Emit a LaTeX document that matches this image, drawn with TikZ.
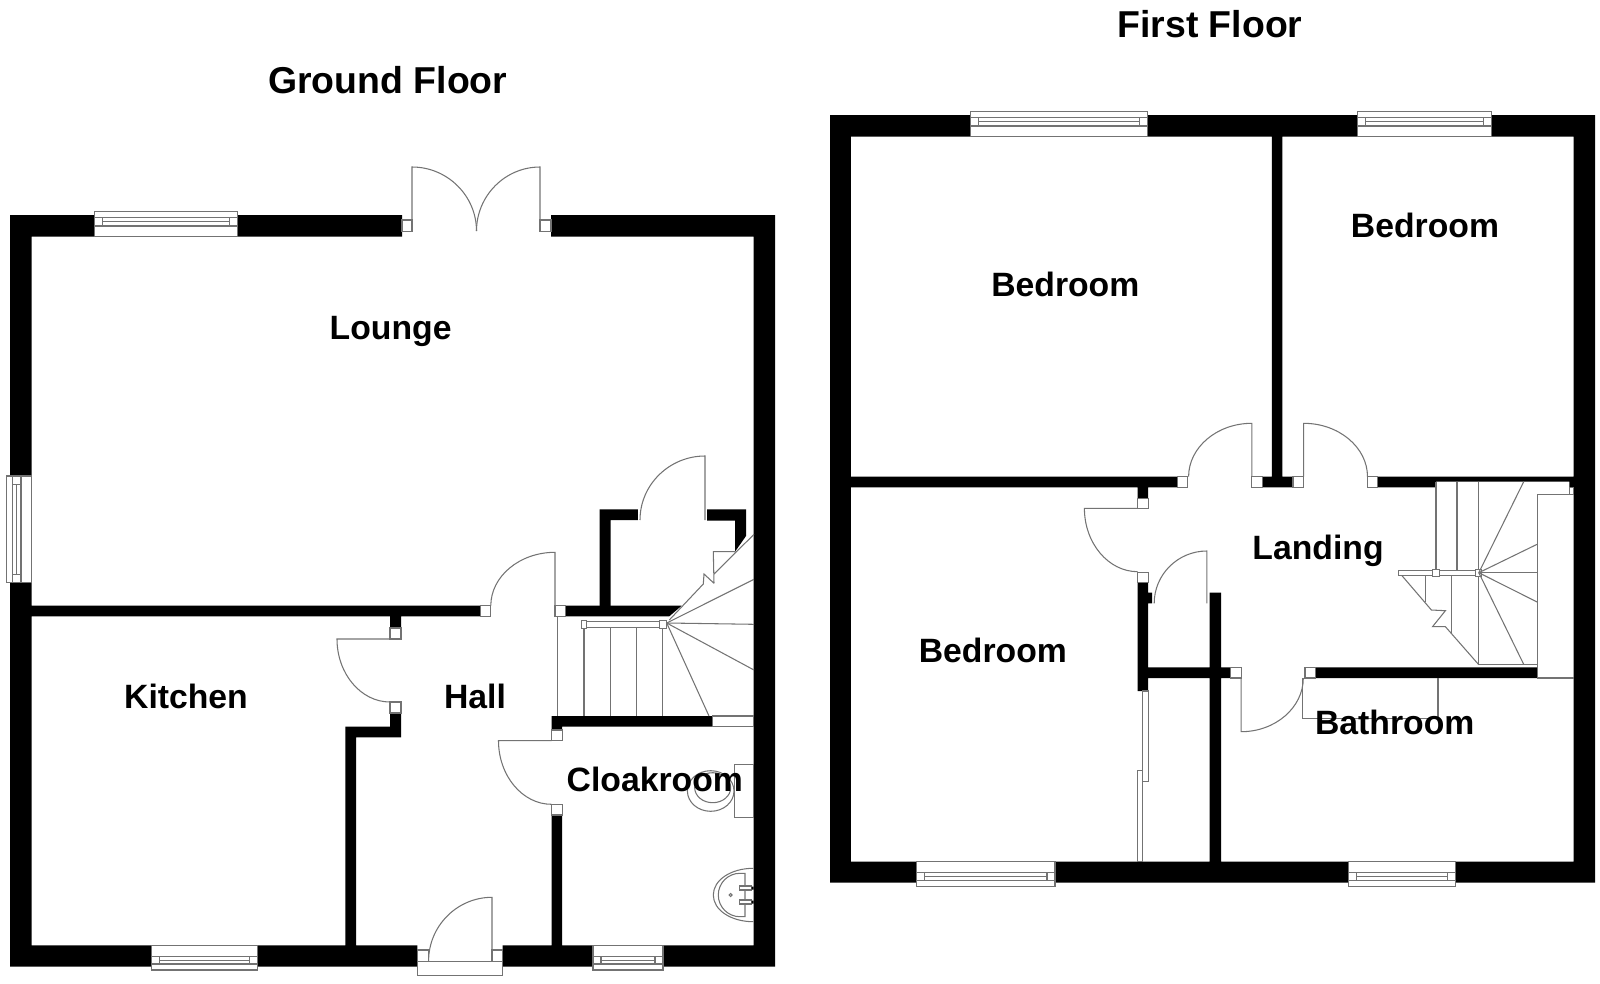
\documentclass[tikz,border=0pt]{standalone}
\usepackage{fontspec}
\setmainfont{Liberation Sans}
\tikzset{wall/.style={fill=black},
    fine/.style={draw=black!55,line width=0.6pt},
    jamb/.style={fine,fill=white},
    floorlabel/.style={inner sep=0pt,anchor=base,font=\fontsize{21.3pt}{24pt}\selectfont\bfseries},
    roomlabel/.style={inner sep=0pt,anchor=base,font=\fontsize{19.2pt}{22pt}\selectfont\bfseries}}
% door with an upright leaf: arc start x,y then leaf tip x,y
\newcommand\vswing[4]{\draw[fine] (#1,#2) .. controls (#1,{#2+.55*(#4-#2)}) and ({#3-.55*(#3-#1)},#4) .. (#3,#4) -- (#3,#2);}
% door with a level leaf
\newcommand\hswing[4]{\draw[fine] (#1,#2) .. controls ({#1+.55*(#3-#1)},#2) and (#3,{#4+.55*(#2-#4)}) .. (#3,#4) -- (#1,#4);}
% window: x1 x2 y1 y2 then the two frame lines
\newcommand\flatwin[6]{\draw[jamb] (#1,#3) rectangle (#2,#4);
    \draw[fine] (#1,#5) -- (#2,#5) (#1,#6) -- (#2,#6)
        ({#1+8},#5) -- ({#1+8},#6) ({#2-8},#5) -- ({#2-8},#6)
        ({#1+8},{(#5+#6)/2}) -- ({#2-8},{(#5+#6)/2});}
\begin{document}
\begin{tikzpicture}[x=0.02cm,y=-0.02cm]
\useasboundingbox (0,0) rectangle (1600,984);
% ground floor walls
\fill[wall] (10.2,215) rectangle (402,236.7)
    (551,215) rectangle (775,236.7)
    (10.2,215) rectangle (31.6,966.7)
    (753.6,215) rectangle (775,966.7)
    (10.2,945.3) rectangle (417.3,966.7)
    (502.6,945.3) rectangle (775,966.7)
    (31.6,605.7) rectangle (480.6,616.3)
    (390,616) rectangle (401,628)
    (390,713) rectangle (401,737.3)
    (345.4,726.7) rectangle (401,737.3)
    (345.4,726.7) rectangle (356,946)
    (551.5,815) rectangle (562.2,946)
    (551.5,716) rectangle (712.8,726.7)
    (551.5,726) rectangle (562.2,730)
    (599.5,509.3) rectangle (637.8,520)
    (599.5,509.3) rectangle (610.7,606);
\fill[wall] (565.3,605.7) -- (681.7,605.7) -- (669.3,616.3) -- (565.3,616.3) -- cycle;
\fill[wall] (707,509.3) -- (746,509.3) -- (746,536) -- (735,551.7) -- (735,520.7) -- (707,520.7) -- cycle;
% ground floor windows
\flatwin{94.4}{237.2}{211.3}{236.7}{217.3}{226}
\flatwin{151.5}{257.7}{945.3}{970}{956.7}{964}
\flatwin{593}{663}{945.3}{970}{956.7}{964}
\draw[jamb] (6.7,476) rectangle (31.3,582.7);
\draw[fine] (12.3,476) -- (12.3,582.7) (21,476) -- (21,582.7)
    (12.3,484.3) -- (21,484.3) (12.3,574.7) -- (21,574.7) (16.7,484.3) -- (16.7,574.7);
% ground floor doors
\foreach \xa/\ya/\xb/\yb in {402/220/412/231.3,540/220/551/231.3,480.6/605.7/490.8/616.3,
    555/605.7/565.3/616.3,390/628/401/639,390/702/401/713,551.5/730/562.2/740.7,
    551.5/804.3/562.2/815,417.3/950/428.6/961.3,492/950/502.6/961.3}
    \draw[jamb] (\xa,\ya) rectangle (\xb,\yb);
\draw[jamb] (417.3,961.3) rectangle (502.6,975.3);
\vswing{476.5}{231}{412}{167}
\vswing{476.5}{231}{540}{167}
\vswing{490.8}{605.7}{555}{552.3}
\vswing{640}{520}{705}{456}
\vswing{428.6}{961}{492}{897.3}
\hswing{390}{702}{337}{639}
\hswing{551.5}{804.3}{498.5}{740.7}
% ground floor stairs
\draw[fine] (557.7,616.3) -- (557.7,716);
\foreach \tx in {584,610.7,636.7,662.8}
    \draw[fine] (\tx,626.7) -- (\tx,716);
\draw[jamb] (581.6,621.7) rectangle (665.8,627.3);
\draw[jamb] (581.6,620.7) rectangle (586.5,628.3);
\draw[jamb] (659.3,620.7) rectangle (666.7,628.3);
\foreach \wx/\wy in {754/579.3,754/624.3,754/670,709/716}
    \draw[fine] (666.7,623) -- (\wx,\wy);
\draw[fine] (754,534.3) -- (714,574) (714,583.3) -- (704,574) -- (703.3,584) -- (669.3,620)
    (714,583.3) -- (713.3,551.7) -- (735,551.7);
\draw[jamb] (712.8,716) rectangle (753.6,726.7);
% cloakroom fittings
\draw[fine] (712.7,787.7) ellipse [x radius=18,y radius=15];
\draw[fine] (710.7,791) ellipse [x radius=23.3,y radius=20.3];
\draw[jamb] (734.3,764.3) rectangle (753.3,817.3);
\draw[fine] (753.3,868.3) .. controls (731,868.3) and (713.3,880) .. (713.3,895)
    .. controls (713.3,910) and (731,921.7) .. (753.3,921.7);
\draw[fine] (745,873.3) -- (740,873.3) .. controls (728,873.3) and (718.3,883) .. (718.3,895)
    .. controls (718.3,907) and (728,916.7) .. (740,916.7) -- (745,916.7) -- cycle;
\draw[jamb] (739.3,886) rectangle (751.7,890) (739.3,900) rectangle (751.7,904);
\fill[wall] (751.7,886.5) rectangle (753.6,889.5) (751.7,900.5) rectangle (753.6,903.5);
\draw[fine] (730.7,895) circle [radius=1.5];
% first floor walls
\fill[wall] (830,115) rectangle (1595,136.7)
    (830,115) rectangle (850.8,882.7)
    (1573.7,115) rectangle (1595,882.7)
    (830,861.7) rectangle (1595,882.7)
    (1271.8,136) rectangle (1282.3,487.3)
    (850,476.7) rectangle (1177.4,487.3)
    (1262.3,476.7) rectangle (1293,487.3)
    (1377.7,476.7) rectangle (1436,487.3)
    (1436,476.7) rectangle (1573.7,481.7)
    (1569.3,481) rectangle (1573.7,487.3)
    (1137.7,487) rectangle (1148.2,498.3)
    (1137.5,582.7) rectangle (1148.2,691)
    (1148,592.7) rectangle (1152,603.3)
    (1209.6,592.7) rectangle (1221.2,862)
    (1148,667.3) rectangle (1230.7,678)
    (1315.6,667.3) rectangle (1537.7,678);
% first floor windows
\flatwin{970.2}{1147.9}{111.3}{136.7}{117.3}{126}
\flatwin{1357.3}{1491.6}{111.3}{136.7}{117.3}{126}
\flatwin{916.3}{1055}{861.7}{886.7}{872.3}{880.7}
\flatwin{1348.7}{1455.3}{861.7}{886.7}{872.3}{880.7}
% first floor doors
\foreach \xa/\ya/\xb/\yb in {1177.4/476.7/1187.9/487.3,1251.8/476.7/1262.3/487.3,
    1293/476.7/1303.7/487.3,1367.5/476.7/1377.7/487.3,1137.7/498.3/1148.2/508.3,
    1137.7/572.3/1148.2/582.7,1230.7/667.3/1241.2/678,1305/667.3/1315.6/678,
    1569.3/487.3/1573.7/494.7}
    \draw[jamb] (\xa,\ya) rectangle (\xb,\yb);
\vswing{1188.6}{476.7}{1251.8}{423.3}
\vswing{1367.5}{476.7}{1303.7}{423.3}
\vswing{1154.2}{603.3}{1206.8}{551}
\vswing{1303.3}{678}{1241.2}{731.7}
\hswing{1137.7}{571.7}{1084.4}{508.3}
% sliding doors
\draw[jamb] (1142.7,691) rectangle (1148.3,781.7);
\draw[jamb] (1137.3,770.7) rectangle (1142.7,861.7);
% first floor stairs
\foreach \tx in {1436,1457,1478.4}
    \draw[fine] (\tx,481.7) -- (\tx,570.7);
\draw[fine] (1425.4,575.7) -- (1425.4,601.7) (1451.8,575.7) -- (1451.8,633)
    (1478.4,575.7) -- (1478.4,664.3) -- (1537.7,664.3);
\draw[jamb] (1398.4,570.7) rectangle (1479.8,575.7);
\draw[jamb] (1432.5,569.7) rectangle (1439.5,576.7);
\draw[jamb] (1475.6,569.7) rectangle (1481.6,576.7);
\foreach \wx/\wy in {1523.7/481.7,1537.7/544,1537.7/572.7,1537.7/602.3,1523.7/664.3}
    \draw[fine] (1478.8,572.7) -- (\wx,\wy);
\draw[fine] (1402,575.7) -- (1431.4,610) -- (1445.4,610.7) -- (1432.5,626.7) -- (1445.4,626.7) -- (1478.4,664.3);
\draw[fine] (1573.7,494.7) -- (1537.7,494.7) -- (1537.7,678) -- (1573.7,678);
% bathroom fitting
\draw[fine] (1302.3,678) -- (1302.3,718.3) -- (1438,718.3) -- (1438,678);
% labels
\node[floorlabel] (groundtitle) at (387.8,93) {Ground Floor};
\node[floorlabel] (firsttitle) at (1210,37.3) {First Floor};
\node[roomlabel] (lounge) at (390.6,339.3) {Lounge};
\node[roomlabel] (kitchen) at (186,708.3) {Kitchen};
\node[roomlabel] (hall) at (475,708.3) {Hall};
\node[roomlabel] (cloakroom) at (654.8,791.7) {Cloakroom};
\node[roomlabel] (bedrooma) at (1065.3,296) {Bedroom};
\node[roomlabel] (bedroomb) at (1425,237.8) {Bedroom};
\node[roomlabel] (bedroomc) at (992.9,662) {Bedroom};
\node[roomlabel] (landing) at (1318,559.3) {Landing};
\node[roomlabel] (bathroom) at (1394.7,734) {Bathroom};
\end{tikzpicture}
\end{document}
